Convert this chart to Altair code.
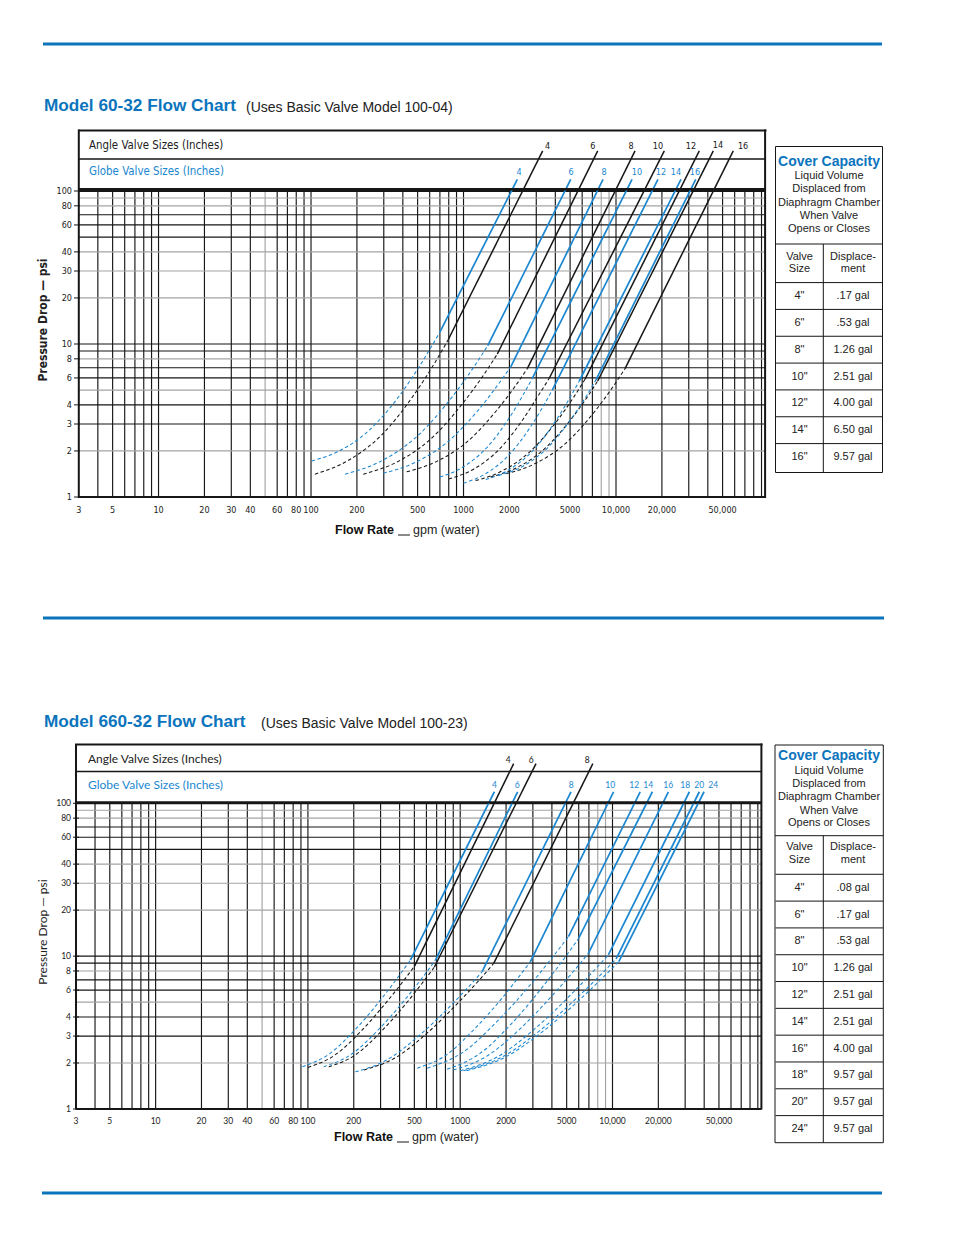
import altair as alt
import pandas as pd

# ---------------------------------------------------------------- data
# Chart 1 : Model 60-32 (angle = black, globe = blue)
c1_angle_sizes = [4, 6, 8, 10, 12, 14, 16]
c1_angle_dash_q = [[106, 175, 290, 480, 650, 795],
                   [220, 365, 605, 1005, 1361, 1666],
                   [424, 668, 1054, 1660, 2183, 2620],
                   [800, 1164, 1698, 2472, 3097, 3650],
                   [1200, 1815, 2742, 4150, 5309, 6263],
                   [1500, 2249, 3373, 5058, 6457, 7586],
                   [1900, 2979, 4667, 7311, 9572, 11460]]
c1_angle_dash_p = [[1.41, 1.73, 2.54, 4.75, 7.57, 10.7],
                   [1.41, 1.69, 2.38, 4.18, 6.32, 8.6],
                   [1.46, 1.71, 2.29, 3.71, 5.30, 6.9],
                   [1.31, 1.52, 2.03, 3.25, 4.61, 5.97],
                   [1.28, 1.49, 1.99, 3.19, 4.53, 5.88],
                   [1.35, 1.56, 2.05, 3.21, 4.48, 5.73],
                   [1.42, 1.66, 2.24, 3.66, 5.27, 6.9]]
c1_angle_solid_q = [[795, 3305], [1666, 7586], [2620, 13330], [3650, 20740],
                    [6263, 35160], [7586, 43450], [11460, 58750]]
c1_angle_solid_p = [[10.7, 183], [8.6, 183], [6.9, 183], [5.97, 183],
                    [5.88, 183], [5.73, 183], [6.9, 183]]
c1_angle_label_q = [3565, 7035, 12540, 18850, 31030, 46670, 68080]
c1_angle_label_p = [197, 197, 197, 197, 197, 200, 197]

c1_globe_sizes = [4, 6, 8, 10, 12, 14, 16]
c1_globe_dash_q = [[101, 150, 220, 320, 450, 580, 701],
                   [167, 286, 491, 841, 1161, 1441],
                   [298, 482, 780, 1262, 1683, 2040],
                   [700, 993, 1406, 1995, 2455, 2826],
                   [1000, 1399, 1954, 2735, 3342, 3822],
                   [1400, 1991, 2837, 4036, 4989, 5745],
                   [1700, 2455, 3548, 5117, 6383, 7390]]
c1_globe_dash_p = [[1.72, 1.98, 2.53, 3.69, 5.83, 8.69, 12.0],
                   [1.41, 1.71, 2.47, 4.50, 7.01, 9.75],
                   [1.43, 1.68, 2.28, 3.74, 5.42, 7.1],
                   [1.35, 1.57, 2.08, 3.29, 4.63, 5.97],
                   [1.23, 1.42, 1.85, 2.85, 3.94, 5.0],
                   [1.30, 1.51, 2.00, 3.16, 4.46, 5.73],
                   [1.38, 1.59, 2.09, 3.27, 4.56, 5.82]]
c1_globe_solid_q = [[701, 2253], [1441, 5047], [2040, 8222], [2826, 12740],
                    [3822, 18840], [5745, 26670], [7390, 33340]]
c1_globe_solid_p = [[12.0, 119], [9.75, 119], [7.1, 119], [5.97, 119],
                    [5.0, 119], [5.73, 119], [5.82, 119]]
c1_globe_label_q = [2312, 5070, 8340, 13730, 19720, 24720, 32960]
c1_globe_label_p = [133, 133, 133, 133, 133, 133, 133]

# Chart 2 : Model 660-32
c2_angle_sizes = [4, 6, 8]
c2_angle_dash_q = [[100, 150, 224, 335, 427, 501],
                   [137, 205, 305, 455, 578, 677],
                   [233, 380, 622, 1016, 1365, 1660]]
c2_angle_dash_p = [[1.87, 2.25, 3.24, 5.13, 6.95, 8.61],
                   [1.89, 2.26, 3.24, 5.09, 6.89, 8.49],
                   [1.80, 2.18, 3.21, 5.20, 7.16, 8.97]]
c2_angle_solid_q = [[501, 2244], [677, 3145], [1660, 7430]]
c2_angle_solid_p = [[8.61, 182], [8.49, 182], [8.97, 182]]
c2_angle_label_q = [2070, 2930, 6823]
c2_angle_label_p = [192, 192, 192]

c2_globe_sizes = [4, 6, 8, 10, 12, 14, 16, 18, 20, 24]
c2_globe_dash_q = [[92, 138, 208, 313, 400, 471],
                   [127, 194, 296, 452, 582, 688],
                   [205, 331, 535, 863, 1151, 1393],
                   [522, 801, 1227, 1884, 2432, 2885],
                   [607, 1035, 1766, 3013, 4150, 5140],
                   [820, 1349, 2218, 3648, 4920, 6000],
                   [900, 1500, 2500, 4159, 5649, 6930],
                   [1000, 1750, 3069, 5370, 7516, 9400],
                   [1050, 1871, 3334, 5929, 8395, 10560],
                   [1100, 1954, 3475, 6180, 8730, 11000]]
c2_globe_dash_p = [[1.89, 2.29, 3.37, 5.46, 7.53, 9.43],
                   [1.89, 2.29, 3.37, 5.46, 7.53, 9.43],
                   [1.75, 2.10, 3.01, 4.73, 6.40, 7.91],
                   [1.85, 2.24, 3.30, 5.32, 7.34, 9.19],
                   [1.85, 2.34, 3.78, 6.84, 10.2, 13.4],
                   [1.82, 2.31, 3.70, 6.70, 9.93, 13.1],
                   [1.80, 2.22, 3.38, 5.73, 8.13, 10.4],
                   [1.78, 2.19, 3.33, 5.64, 8.00, 10.2],
                   [1.78, 2.18, 3.26, 5.41, 7.59, 9.6],
                   [1.78, 2.17, 3.21, 5.26, 7.31, 9.2]]
c2_globe_solid_q = [[471, 1676], [688, 2383], [1393, 5336], [2885, 10160],
                    [5140, 15200], [6000, 18280], [6930, 23280], [9400, 31990],
                    [10560, 37170], [11000, 39910]]
c2_globe_solid_p = [[9.43, 119], [9.43, 119], [7.91, 119], [9.19, 119],
                    [13.4, 119], [13.1, 119], [10.4, 119], [10.2, 119],
                    [9.6, 119], [9.2, 119]]
c2_globe_label_q = [1676, 2372, 5360, 9660, 13870, 17140, 23220, 30060, 37150, 45810]
c2_globe_label_p = [131.5] * 10

# axes / grid
x_tick_values = [3, 5, 10, 20, 30, 40, 60, 80, 100, 200, 500, 1000, 2000, 5000,
                 10000, 20000, 50000]
x_tick_labels = ["3", "5", "10", "20", "30", "40", "60", "80", "100", "200", "500",
                 "1000", "2000", "5000", "10,000", "20,000", "50,000"]
y_tick_values = [1, 2, 3, 4, 6, 8, 10, 20, 30, 40, 60, 80, 100]
v_black = [4, 5, 6, 7, 8, 9, 10, 20, 30, 40, 60, 70, 80, 90, 100, 200, 300, 400, 500,
           600, 700, 800, 900, 1000, 2000, 3000, 4000, 5000, 6000, 7000, 10000, 20000,
           30000, 40000, 50000, 60000, 70000, 80000, 90000]
v_gray = [50, 8000, 9000]
h_black = [3, 4, 6, 7, 9, 10, 50, 60, 70]
h_gray = [2, 5, 8, 20, 30, 40, 80, 90]

# cover capacity tables
t1_sizes = ['4"', '6"', '8"', '10"', '12"', '14"', '16"']
t1_disp = [".17 gal", ".53 gal", "1.26 gal", "2.51 gal", "4.00 gal", "6.50 gal", "9.57 gal"]
t2_sizes = ['4"', '6"', '8"', '10"', '12"', '14"', '16"', '18"', '20"', '24"']
t2_disp = [".08 gal", ".17 gal", ".53 gal", "1.26 gal", "2.51 gal", "2.51 gal",
           "4.00 gal", "9.57 gal", "9.57 gal", "9.57 gal"]

# ---------------------------------------------------------------- style
BLUE_LINE = "#1b87d0"
BLUE_TITLE = "#0b74bd"
BLACK = "#161616"
GRAY = "#a3a3a3"
F_COND = "Liberation Sans Narrow, DejaVu Sans Condensed, Roboto, sans-serif"
F_HELV = "Liberation Sans, Arial, sans-serif"
F_MYR = "Lato, Open Sans, sans-serif"
Q_MIN, Q_MAX = 3, 95000

ONE = pd.DataFrame({"k": [0]})


def px(v):
    return v - 8


def rule(x1, y1, x2, y2, color=BLACK, w=1.0):
    return alt.Chart(ONE).mark_rule(color=color, strokeWidth=w).encode(
        x=alt.value(px(x1)), y=alt.value(px(y1)),
        x2=alt.value(px(x2)), y2=alt.value(px(y2)))


def text(t, x, y, size=11, color="#222", font=F_HELV, weight="normal",
         align="left", angle=0):
    kw = dict(text=t, fontSize=size, color=color, font=font, fontWeight=weight,
              align=align, baseline="middle")
    if angle:
        kw["angle"] = angle
    return alt.Chart(ONE).mark_text(**kw).encode(x=alt.value(px(x)), y=alt.value(px(y)))


def curves(sizes, qs, ps):
    rows = []
    for s, ql, pl in zip(sizes, qs, ps):
        for i, (q, p) in enumerate(zip(ql, pl)):
            rows.append({"size": s, "i": i, "q": q, "p": p})
    return pd.DataFrame(rows)


def plot_group(xr, yr, angle, globe, font, fs, ytick_x, xlab_y, frame):
    sx = alt.Scale(type="log", domain=[Q_MIN, Q_MAX], range=xr, nice=False)
    sy = alt.Scale(type="log", domain=[1, 100], range=yr, nice=False)
    X = lambda f: alt.X(f, scale=sx, axis=None)
    Y = lambda f: alt.Y(f, scale=sy, axis=None)
    layers = []
    # grid
    for vals, col in ((v_gray, GRAY), (v_black, BLACK)):
        d = pd.DataFrame({"q": vals, "p0": 1, "p1": 100})
        layers.append(alt.Chart(d).mark_rule(color=col, strokeWidth=1.15).encode(
            x=X("q:Q"), y=Y("p0:Q"), y2="p1:Q"))
    for vals, col, w in ((h_gray, GRAY, 1.15), (h_black, BLACK, 1.15), ([1, 100], BLACK, 1.8)):
        d = pd.DataFrame({"p": vals, "q0": Q_MIN, "q1": Q_MAX})
        layers.append(alt.Chart(d).mark_rule(color=col, strokeWidth=w).encode(
            y=Y("p:Q"), x=X("q0:Q"), x2="q1:Q"))
    # frame (left / right borders run up through the header)
    d = pd.DataFrame({"q": [Q_MIN, Q_MAX]})
    layers.append(alt.Chart(d).mark_rule(color=BLACK, strokeWidth=2).encode(
        x=X("q:Q"), y=alt.value(px(frame[0])), y2=alt.value(px(frame[1]))))
    # tick labels
    dy = pd.DataFrame({"p": y_tick_values, "t": [str(v) for v in y_tick_values]})
    layers.append(alt.Chart(dy).mark_rule(color=BLACK, strokeWidth=1).encode(
        y=Y("p:Q"), x=alt.value(px(ytick_x + 2)), x2=alt.value(px(ytick_x + 8))))
    layers.append(alt.Chart(dy).mark_text(font=font, fontSize=fs, align="right",
                                          baseline="middle", color="#222").encode(
        y=Y("p:Q"), x=alt.value(px(ytick_x)), text="t:N"))
    dx = pd.DataFrame({"q": x_tick_values, "t": x_tick_labels})
    layers.append(alt.Chart(dx).mark_text(font=font, fontSize=fs, align="center",
                                          baseline="middle", color="#222").encode(
        x=X("q:Q"), y=alt.value(px(xlab_y)), text="t:N"))
    # curves
    for (sizes, dq, dp, sq, sp, lq, lp), col, wid in ((angle, BLACK, 1.5), (globe, BLUE_LINE, 1.7)):
        dd = curves(sizes, dq, dp)
        layers.append(alt.Chart(dd).mark_line(color=col, strokeWidth=1.05,
                                              strokeDash=[3.5, 2.5], interpolate="monotone").encode(
            x=X("q:Q"), y=Y("p:Q"), detail="size:N", order="i:Q"))
        ds = curves(sizes, sq, sp)
        layers.append(alt.Chart(ds).mark_line(color=col, strokeWidth=wid).encode(
            x=X("q:Q"), y=Y("p:Q"), detail="size:N", order="i:Q"))
        dl = pd.DataFrame({"q": lq, "p": lp, "t": [str(s) for s in sizes]})
        layers.append(alt.Chart(dl).mark_text(font=font, fontSize=fs, color=col,
                                              align="center", baseline="middle").encode(
            x=X("q:Q"), y=Y("p:Q"), text="t:N"))
    return alt.layer(*layers)


def table_group(sizes, disp, yr):
    n = len(sizes)
    sy = alt.Scale(domain=[0, n - 1], range=yr, nice=False, zero=False)
    d = pd.DataFrame({"i": list(range(n)), "s": sizes, "v": disp})
    sep = pd.DataFrame({"i": [k + 0.5 for k in range(-1, n - 1)]})
    return alt.layer(
        alt.Chart(sep).mark_rule(color=BLACK, strokeWidth=1).encode(
            y=alt.Y("i:Q", scale=sy, axis=None), x=alt.value(px(775.5)), x2=alt.value(px(883))),
        alt.Chart(d).mark_text(font=F_HELV, fontSize=11, color="#222", align="center",
                               baseline="middle").encode(
            y=alt.Y("i:Q", scale=sy, axis=None), x=alt.value(px(799.5)), text="s:N"),
        alt.Chart(d).mark_text(font=F_HELV, fontSize=11, color="#222", align="center",
                               baseline="middle").encode(
            y=alt.Y("i:Q", scale=sy, axis=None), x=alt.value(px(853)), text="v:N"),
    )


g1 = plot_group(
    [px(78.8), px(765.1)], [px(497), px(191)],
    (c1_angle_sizes, c1_angle_dash_q, c1_angle_dash_p, c1_angle_solid_q, c1_angle_solid_p,
     c1_angle_label_q, c1_angle_label_p),
    (c1_globe_sizes, c1_globe_dash_q, c1_globe_dash_p, c1_globe_solid_q, c1_globe_solid_p,
     c1_globe_label_q, c1_globe_label_p),
    F_COND, 9, 72, 510, (129.5, 498))

g2 = plot_group(
    [px(76.0), px(761.4)], [px(1109), px(803.3)],
    (c2_angle_sizes, c2_angle_dash_q, c2_angle_dash_p, c2_angle_solid_q, c2_angle_solid_p,
     c2_angle_label_q, c2_angle_label_p),
    (c2_globe_sizes, c2_globe_dash_q, c2_globe_dash_p, c2_globe_solid_q, c2_globe_solid_p,
     c2_globe_label_q, c2_globe_label_p),
    F_MYR, 8.5, 71, 1121, (743.5, 1109.5))

t1 = table_group(t1_sizes, t1_disp, [px(296), px(457)])
t2 = table_group(t2_sizes, t2_disp, [px(887.7), px(1129)])

decor = [
    # page rules
    rule(43, 44, 882, 44, BLUE_TITLE, 3),
    rule(43, 618, 884, 618, BLUE_TITLE, 3),
    rule(42, 1193, 882, 1193, BLUE_TITLE, 3),
    # titles
    text("Model 60-32 Flow Chart", 44, 106, 17.2, BLUE_TITLE, F_HELV, "bold"),
    text("(Uses Basic Valve Model 100-04)", 246, 107.5, 14, "#222", F_HELV),
    text("Model 660-32 Flow Chart", 44, 722, 17.2, BLUE_TITLE, F_HELV, "bold"),
    text("(Uses Basic Valve Model 100-23)", 261, 723.5, 14, "#222", F_HELV),
    # chart 1 header
    rule(78.5, 130.5, 766.5, 130.5, BLACK, 2.2),
    rule(79, 159, 766, 159, BLACK, 1.4),
    rule(79, 189.3, 766, 189.3, BLACK, 2.4),
    text("Angle Valve Sizes (Inches)", 89, 145.5, 11.4, "#222", F_COND),
    text("Globe Valve Sizes (Inches)", 89, 172, 11.4, BLUE_LINE, F_COND),
    text("Pressure Drop — psi", 43, 320, 12, "#222", F_COND, "bold", "center", 270),
    text("Flow Rate", 335, 530, 12.5, "#111", F_HELV, "bold"),
    rule(398, 535, 410, 535, BLACK, 1),
    text("gpm (water)", 413, 530, 12.5, "#222", F_HELV),
    # chart 2 header
    rule(77, 744.5, 762.5, 744.5, BLACK, 2),
    rule(77, 771.5, 762, 771.5, BLACK, 1.4),
    rule(77, 802.3, 762, 802.3, BLACK, 2.2),
    text("Angle Valve Sizes (Inches)", 88, 759, 12, "#222", F_MYR),
    text("Globe Valve Sizes (Inches)", 88, 785, 12, BLUE_LINE, F_MYR),
    text("Pressure Drop — psi", 43, 932, 12, "#222", F_MYR, "normal", "center", 270),
    text("Flow Rate", 334, 1137, 12.5, "#111", F_HELV, "bold"),
    rule(397, 1142, 409, 1142, BLACK, 1),
    text("gpm (water)", 412, 1137, 12.5, "#222", F_HELV),
    # table 1
    rule(775.5, 146.5, 882.5, 146.5), rule(775.5, 472.5, 882.5, 472.5),
    rule(775.5, 146.5, 775.5, 472.5), rule(882.5, 146.5, 882.5, 472.5),
    rule(775.5, 244, 882.5, 244), rule(823.3, 244, 823.3, 472.5),
    text("Cover Capacity", 829, 161.5, 14, BLUE_TITLE, F_HELV, "bold", "center"),
    text("Liquid Volume", 829, 175.7, 11, "#222", F_HELV, "normal", "center"),
    text("Displaced from", 829, 189.3, 11, "#222", F_HELV, "normal", "center"),
    text("Diaphragm Chamber", 829, 202.7, 11, "#222", F_HELV, "normal", "center"),
    text("When Valve", 829, 216, 11, "#222", F_HELV, "normal", "center"),
    text("Opens or Closes", 829, 229.3, 11, "#222", F_HELV, "normal", "center"),
    text("Valve", 799.5, 256.7, 11, "#222", F_HELV, "normal", "center"),
    text("Size", 799.5, 269.3, 11, "#222", F_HELV, "normal", "center"),
    text("Displace-", 853, 256.7, 11, "#222", F_HELV, "normal", "center"),
    text("ment", 853, 269.3, 11, "#222", F_HELV, "normal", "center"),
    # table 2
    rule(775, 745, 883.3, 745), rule(775, 1142.7, 883.3, 1142.7),
    rule(775, 745, 775, 1142.7), rule(883.3, 745, 883.3, 1142.7),
    rule(775, 835.7, 883.3, 835.7), rule(823.3, 835.7, 823.3, 1142.7),
    text("Cover Capacity", 829, 755.7, 14, BLUE_TITLE, F_HELV, "bold", "center"),
    text("Liquid Volume", 829, 770.7, 11, "#222", F_HELV, "normal", "center"),
    text("Displaced from", 829, 783.7, 11, "#222", F_HELV, "normal", "center"),
    text("Diaphragm Chamber", 829, 796.7, 11, "#222", F_HELV, "normal", "center"),
    text("When Valve", 829, 810.7, 11, "#222", F_HELV, "normal", "center"),
    text("Opens or Closes", 829, 823.3, 11, "#222", F_HELV, "normal", "center"),
    text("Valve", 799.5, 847.3, 11, "#222", F_HELV, "normal", "center"),
    text("Size", 799.5, 860, 11, "#222", F_HELV, "normal", "center"),
    text("Displace-", 853, 847.3, 11, "#222", F_HELV, "normal", "center"),
    text("ment", 853, 860, 11, "#222", F_HELV, "normal", "center"),
]

chart = alt.layer(g1, g2, t1, t2, *decor).resolve_scale(
    x="independent", y="independent"
).properties(
    width=938, height=1219, autosize=alt.AutoSizeParams(type="none"), padding=0,
    background="white"
).configure_view(stroke=None)

chart.save("out.html", embed_options={"renderer": "svg", "actions": False})
